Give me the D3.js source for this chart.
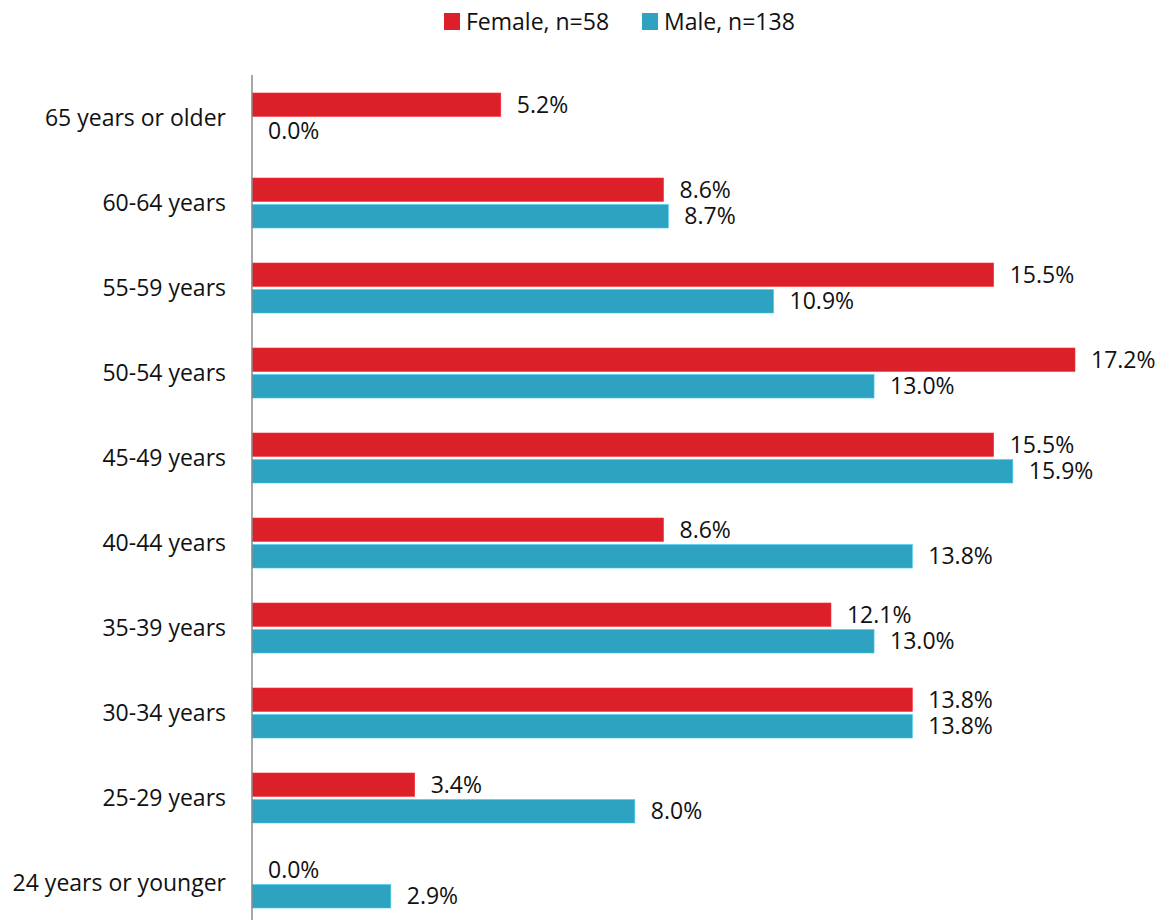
<!DOCTYPE html>
<html><head><meta charset="utf-8">
<script src="https://cdn.jsdelivr.net/npm/d3@7/dist/d3.min.js"></script>
<style>body{margin:0;background:#fff}svg{display:block}text{font-family:"Open Sans",Lato,sans-serif;fill:#111}</style>
</head><body>
<script>
const categories = ["65 years or older","60-64 years","55-59 years","50-54 years","45-49 years","40-44 years","35-39 years","30-34 years","25-29 years","24 years or younger"];
const female = [5.2,8.6,15.5,17.2,15.5,8.6,12.1,13.8,3.4,0.0];
const male = [0.0,8.7,10.9,13.0,15.9,13.8,13.0,13.8,8.0,2.9];
const seriesNames = ["Female, n=58","Male, n=138"];
const colors = ["#DC2029","#2DA3C1"];

const W=1164,H=920,FS=23;
const svg=d3.select("body").append("svg").attr("width",W).attr("height",H);
const x0=252;
const x=d3.scaleLinear().domain([0,17.2]).range([x0,1075]);
const y=d3.scaleBand().domain(categories).range([75.5,925.5]);
const inner=d3.scaleBand().domain([0,1]).range([y.bandwidth()/2-25,y.bandwidth()/2+25]).paddingInner(0.12);

const g=svg.append("g");
const series=[female,male];
series.forEach((vals,si)=>{
  g.selectAll(".b"+si).data(categories).enter().append("rect")
    .attr("x",x0).attr("y",d=>y(d)+inner(si))
    .attr("width",(d,i)=>x(vals[i])-x0).attr("height",inner.bandwidth())
    .attr("fill",colors[si]).attr("stroke",d3.color(colors[si]).brighter(0.6)).attr("stroke-width",0.6);
  g.selectAll(".t"+si).data(categories).enter().append("text")
    .attr("x",(d,i)=>x(vals[i])+16).attr("y",d=>y(d)+inner(si)+inner.bandwidth()/2)
    .attr("dy","0.35em").attr("font-size",FS)
    .text((d,i)=>vals[i].toFixed(1)+"%");
});

svg.append("g").selectAll("text").data(categories).enter().append("text")
  .attr("x",226).attr("y",d=>y(d)+y.bandwidth()/2).attr("dy","0.35em")
  .attr("text-anchor","end").attr("font-size",FS).text(d=>d);

svg.append("line").attr("x1",x0).attr("x2",x0).attr("y1",75).attr("y2",920)
  .attr("stroke","#8a8a8a").attr("stroke-width",1.5);

const lx=[444,642];
seriesNames.forEach((n,i)=>{
  svg.append("rect").attr("x",lx[i]).attr("y",13).attr("width",16).attr("height",17).attr("fill",colors[i]);
  svg.append("text").attr("x",lx[i]+22).attr("y",22).attr("dy","0.35em").attr("font-size",FS).text(n);
});
</script>
</body></html>
